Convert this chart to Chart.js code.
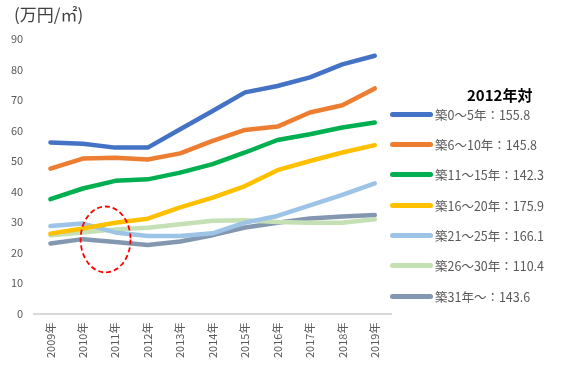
<!DOCTYPE html>
<html>
<head>
<meta charset="utf-8">
<script src="https://cdn.jsdelivr.net/npm/chart.js@4"></script>
<style>
  body { margin: 0; background: #fff; font-family: "Noto Sans CJK JP", "Noto Sans", sans-serif; }
  #wrap { position: relative; width: 566px; height: 383px; }
  #legendTitle { position: absolute; left: 467px; top: 85px; font-size: 15px; font-weight: bold; line-height: 20px; color: #000; }
  #legendItems { position: absolute; left: 390px; top: 99px; }
  .row { display: flex; align-items: center; height: 30.33px; }
  .swatch { width: 43px; height: 5px; border-radius: 2.5px; margin-right: 2px; }
  .txt { font-size: 12.5px; color: #595959; white-space: nowrap; }
</style>
</head>
<body>
<div id="wrap">
  <canvas id="myChart"></canvas>
  <div id="legendTitle"></div>
  <div id="legendItems"></div>
</div>
<script>
const years = ['2009年', '2010年', '2011年', '2012年', '2013年', '2014年', '2015年', '2016年', '2017年', '2018年', '2019年'];
const age0to5 = [56.1, 55.7, 54.4, 54.4, 60.4, 66.4, 72.5, 74.6, 77.4, 81.7, 84.5];
const age6to10 = [47.5, 50.8, 51.1, 50.5, 52.5, 56.6, 60.2, 61.3, 65.9, 68.3, 73.8];
const age11to15 = [37.5, 41.0, 43.5, 44.0, 46.2, 49.0, 52.8, 56.9, 58.8, 61.0, 62.6];
const age16to20 = [26.2, 27.9, 29.8, 31.1, 34.8, 38.0, 41.8, 47.0, 50.0, 52.8, 55.2];
const age21to25 = [28.7, 29.5, 26.6, 25.4, 25.4, 26.3, 29.8, 32.0, 35.5, 38.9, 42.7];
const age26to30 = [25.7, 26.6, 27.6, 28.1, 29.3, 30.4, 30.6, 30.0, 29.8, 29.8, 30.9];
const age31plus = [23.0, 24.4, 23.5, 22.5, 23.6, 25.7, 28.2, 29.8, 31.2, 31.8, 32.3];
const seriesLabels = ['築0～5年：155.8', '築6～10年：145.8', '築11～15年：142.3', '築16～20年：175.9', '築21～25年：166.1', '築26～30年：110.4', '築31年～：143.6'];
const seriesColors = ['#4472C4', '#ED7D31', '#00B050', '#FFC000', '#9DC3E6', '#C5E0B4', '#8497B0'];
const seriesValues = [age0to5, age6to10, age11to15, age16to20, age21to25, age26to30, age31plus];
const unitText = '(万円/㎡)';
const legendTitle = '2012年対';

const font = '"Noto Sans CJK JP", "Noto Sans", sans-serif';

// unit label above the y axis
const unitLabel = {
    id: 'unitLabel',
    afterDraw(chart) {
        const c = chart.ctx;
        c.save();
        c.font = '17px ' + font;
        c.fillStyle = '#404040';
        c.textBaseline = 'middle';
        c.fillText(unitText, 14, 15);
        c.restore();
    }
};

// red dashed ellipse around 2010-2011, placed in data units
const ellipseMark = {
    id: 'ellipseMark',
    afterDatasetsDraw(chart) {
        const x = chart.scales.x, y = chart.scales.y;
        const cx = x.getPixelForValue(1.7);
        const cy = y.getPixelForValue(24.3);
        const rx = Math.abs(x.getPixelForValue(1.7 + 0.77) - cx);
        const ry = Math.abs(y.getPixelForValue(24.3 + 10.8) - cy);
        const ctx = chart.ctx;
        ctx.save();
        ctx.strokeStyle = '#FF0000';
        ctx.lineWidth = 1.8;
        ctx.setLineDash([5, 3]);
        ctx.beginPath();
        ctx.ellipse(cx, cy, rx, ry, 0, 0, Math.PI * 2);
        ctx.stroke();
        ctx.restore();
    }
};

function buildLegend() {
    document.getElementById('legendTitle').textContent = legendTitle;
    const box = document.getElementById('legendItems');
    seriesLabels.forEach((lab, i) => {
        const row = document.createElement('div');
        row.className = 'row';
        const sw = document.createElement('span');
        sw.className = 'swatch';
        sw.style.background = seriesColors[i];
        const t = document.createElement('span');
        t.className = 'txt';
        t.textContent = lab;
        row.appendChild(sw);
        row.appendChild(t);
        box.appendChild(row);
    });
}

function draw() {
    buildLegend();
    const ctx = document.getElementById('myChart').getContext('2d');
    new Chart(ctx, {
        type: 'line',
        data: {
            labels: years,
            datasets: seriesValues.map((vals, i) => ({
                label: seriesLabels[i],
                data: vals,
                borderColor: seriesColors[i],
                backgroundColor: seriesColors[i],
                borderWidth: 4.5,
                borderCapStyle: 'round',
                borderJoinStyle: 'round',
                pointRadius: 0,
                tension: 0
            }))
        },
        options: {
            responsive: true,
            maintainAspectRatio: false,
            animation: false,
            layout: { padding: { left: 0, right: 175, top: 39, bottom: 16 } },
            plugins: {
                legend: { display: false },
                tooltip: { enabled: false }
            },
            scales: {
                x: {
                    offset: true,
                    grid: { display: false, drawTicks: false },
                    border: { color: '#D9D9D9', width: 2 },
                    ticks: {
                        color: '#595959',
                        font: { family: font, size: 11 },
                        minRotation: 90,
                        maxRotation: 90,
                        padding: 9
                    }
                },
                y: {
                    min: 0,
                    max: 90,
                    grid: { display: false, drawTicks: false },
                    border: { display: false },
                    ticks: {
                        stepSize: 10,
                        color: '#595959',
                        font: { family: font, size: 11 },
                        padding: 11
                    }
                }
            }
        },
        plugins: [ellipseMark, unitLabel]
    });
}

Promise.all([
    document.fonts.load('13px "Noto Sans CJK JP"', '築0～5年：155.8'),
    document.fonts.load('bold 15px "Noto Sans CJK JP"', '2012年対')
]).then(draw, draw);
</script>
</body>
</html>
